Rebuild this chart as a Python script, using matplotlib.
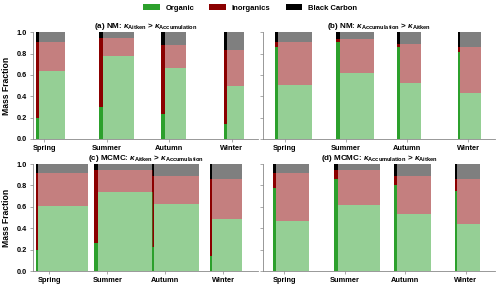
import matplotlib
matplotlib.use("Agg")
import matplotlib.pyplot as plt
import numpy as np
from matplotlib.patches import Patch

plt.rcParams['font.family'] = ['Liberation Sans', 'DejaVu Sans']
plt.rcParams['font.weight'] = 'bold'
plt.rcParams['mathtext.fontset'] = 'custom'
plt.rcParams['mathtext.rm'] = 'Liberation Sans:bold'
plt.rcParams['mathtext.it'] = 'Liberation Sans:bold:italic'
plt.rcParams['mathtext.bf'] = 'Liberation Sans:bold'

seasons = ['Spring', 'Summer', 'Autumn', 'Winter']
components = ['Organic', 'Inorganics', 'Black Carbon']

titles = [r'(a) NM: $\kappa_{\mathrm{Aitken}}$ > $\kappa_{\mathrm{Accumulation}}$',
          r'(b) NM: $\kappa_{\mathrm{Accumulation}}$ > $\kappa_{\mathrm{Aitken}}$',
          r'(c) MCMC: $\kappa_{\mathrm{Aitken}}$ > $\kappa_{\mathrm{Accumulation}}$',
          r'(d) MCMC: $\kappa_{\mathrm{Accumulation}}$ > $\kappa_{\mathrm{Aitken}}$']

# Aitken-mode mass fractions
a_ait_org = [0.20, 0.30, 0.235, 0.14]
a_ait_inorg = [0.713, 0.644, 0.645, 0.696]
b_ait_org = [0.86, 0.913, 0.858, 0.82]
b_ait_inorg = [0.053, 0.027, 0.037, 0.04]
c_ait_org = [0.195, 0.263, 0.229, 0.145]
c_ait_inorg = [0.718, 0.678, 0.656, 0.713]
d_ait_org = [0.774, 0.864, 0.802, 0.749]
d_ait_inorg = [0.139, 0.077, 0.087, 0.109]

# Accumulation-mode mass fractions
a_acc_org = [0.635, 0.774, 0.669, 0.50]
a_acc_inorg = [0.278, 0.170, 0.211, 0.336]
b_acc_org = [0.51, 0.616, 0.523, 0.427]
b_acc_inorg = [0.403, 0.324, 0.372, 0.433]
c_acc_org = [0.604, 0.737, 0.622, 0.483]
c_acc_inorg = [0.309, 0.204, 0.263, 0.375]
d_acc_org = [0.467, 0.619, 0.529, 0.44]
d_acc_inorg = [0.446, 0.322, 0.36, 0.418]

# Black carbon fractions (same for both modes)
a_bc = [0.087, 0.056, 0.12, 0.164]
b_bc = [0.087, 0.06, 0.105, 0.14]
c_bc = [0.087, 0.059, 0.115, 0.142]
d_bc = [0.087, 0.059, 0.111, 0.142]

# Relative bar widths (mode share)
a_ait_w = [0.048, 0.058, 0.054, 0.048]
a_acc_w = [0.405, 0.496, 0.336, 0.277]
b_ait_w = [0.044, 0.070, 0.054, 0.028]
b_acc_w = [0.561, 0.547, 0.344, 0.354]
c_ait_w = [0.023, 0.057, 0.035, 0.029]
c_acc_w = [0.87, 0.957, 0.76, 0.523]
d_ait_w = [0.045, 0.076, 0.05, 0.028]
d_acc_w = [0.55, 0.69, 0.555, 0.39]

panels = [
    (a_ait_org, a_ait_inorg, a_acc_org, a_acc_inorg, a_bc, a_ait_w, a_acc_w),
    (b_ait_org, b_ait_inorg, b_acc_org, b_acc_inorg, b_bc, b_ait_w, b_acc_w),
    (c_ait_org, c_ait_inorg, c_acc_org, c_acc_inorg, c_bc, c_ait_w, c_acc_w),
    (d_ait_org, d_ait_inorg, d_acc_org, d_acc_inorg, d_bc, d_ait_w, d_acc_w),
]
offsets = [0.125, 0.164, 0.22, 0.18]
xlims = [(-0.18, 3.42), (-0.36, 3.44), (-0.28, 3.60), (-0.35, 3.48)]

colors = ['#2ca02c', '#8b0000', '#000000']
FS = 5.3

fig = plt.figure(figsize=(5.0, 2.86), dpi=100)
rects = [(0.066, 0.514, 0.450, 0.373), (0.526, 0.514, 0.464, 0.373),
         (0.066, 0.0524, 0.450, 0.374), (0.526, 0.0524, 0.464, 0.374)]

for k, (ait_org, ait_inorg, acc_org, acc_inorg, bc, ait_w, acc_w) in enumerate(panels):
    ax = fig.add_axes(rects[k])
    x = np.arange(len(seasons)) - offsets[k]
    ait_w = np.array(ait_w); acc_w = np.array(acc_w)
    ait = [np.array(ait_org), np.array(ait_inorg), np.array(bc)]
    acc = [np.array(acc_org), np.array(acc_inorg), np.array(bc)]
    bottom = np.zeros(4)
    for vals, col in zip(ait, colors):
        ax.bar(x, vals, width=ait_w, bottom=bottom, align='edge', color=col, linewidth=0)
        bottom = bottom + vals
    bottom = np.zeros(4)
    for vals, col in zip(acc, colors):
        ax.bar(x + ait_w, vals, width=acc_w, bottom=bottom, align='edge', color=col,
               alpha=0.5, linewidth=0)
        bottom = bottom + vals
    ax.set_xlim(*xlims[k])
    ax.set_ylim(0, 1.0)
    ax.set_xticks(np.arange(4))
    ax.set_xticklabels(seasons, fontsize=FS, fontweight='bold')
    ax.set_yticks(np.arange(0, 1.01, 0.2))
    if k % 2 == 0:
        ax.set_yticklabels([f'{v:.1f}' for v in np.arange(0, 1.01, 0.2)], fontsize=FS, fontweight='bold')
        ax.set_ylabel('Mass Fraction', fontsize=6.2, fontweight='bold', labelpad=4)
    else:
        ax.set_yticklabels([])
    ax.set_title(titles[k], fontsize=5.8, fontweight='bold', pad=3)
    for s in ['top', 'right']:
        ax.spines[s].set_visible(False)
    for s in ['left', 'bottom']:
        ax.spines[s].set_color('#888888')
        ax.spines[s].set_linewidth(0.6)
    ax.tick_params(axis='both', length=2, width=0.5, color='#888888', pad=2.5)

handles = [Patch(facecolor=c, edgecolor='none') for c in colors]
fig.legend(handles, components, loc='center', bbox_to_anchor=(0.5, 0.972), ncol=3,
           frameon=False, handlelength=2.2, handleheight=0.7,
           handletextpad=0.7, columnspacing=2.0, prop={'weight': 'bold', 'size': 5.5})

fig.savefig('out.png', dpi=100)
